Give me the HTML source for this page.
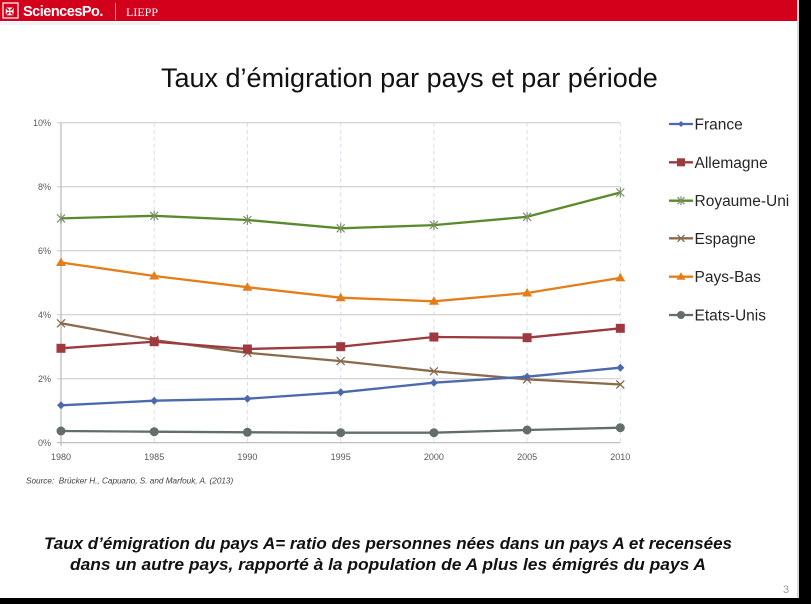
<!DOCTYPE html>
<html><head><meta charset="utf-8">
<style>
html,body{margin:0;padding:0;}
body{width:811px;height:604px;position:relative;overflow:hidden;background:#fff;font-family:"Liberation Sans",sans-serif;}
</style></head>
<body>
<svg width="811" height="604" viewBox="0 0 811 604" xmlns="http://www.w3.org/2000/svg" style="position:absolute;left:0;top:0">
  <!-- header -->
  <rect x="0" y="0" width="798" height="21" fill="#d3001b"/>
  <rect x="3" y="3" width="15" height="15" fill="none" stroke="#fff" stroke-width="1.2"/>
  <text x="5.5" y="15" font-family="Liberation Serif, serif" font-size="10" fill="#fff" font-weight="bold">✠</text>
  <text x="23" y="16" font-family="Liberation Sans, sans-serif" font-size="14.5" font-weight="bold" fill="#fff" letter-spacing="-0.5">SciencesPo.</text>
  <line x1="115.5" y1="3" x2="115.5" y2="20" stroke="#f08a95" stroke-width="1"/>
  <text x="126" y="16" font-family="Liberation Serif, serif" font-size="12" fill="#fff">LIEPP</text>
  <rect x="0" y="22" width="160" height="3" fill="#eef3f8"/>

  <!-- right & bottom black borders -->
  <rect x="797" y="0" width="2" height="604" fill="#d8d8d8"/>
  <rect x="799" y="0" width="12" height="604" fill="#000"/>
  <rect x="0" y="598" width="811" height="6" fill="#000"/>

  <!-- title -->
  <text x="161" y="87" font-family="Liberation Sans, sans-serif" font-size="27" fill="#111">Taux d’émigration par pays et par période</text>

  <!-- grid -->
  <g stroke="#d4dfec" stroke-width="1" stroke-dasharray="4,3">
    <line x1="154.2" y1="122.7" x2="154.2" y2="442.7"/>
    <line x1="247.4" y1="122.7" x2="247.4" y2="442.7"/>
    <line x1="340.7" y1="122.7" x2="340.7" y2="442.7"/>
    <line x1="433.9" y1="122.7" x2="433.9" y2="442.7"/>
    <line x1="527.1" y1="122.7" x2="527.1" y2="442.7"/>
    <line x1="620.3" y1="122.7" x2="620.3" y2="442.7"/>
  </g>
  <g stroke="#c9c9c9" stroke-width="1">
    <line x1="57" y1="122.7" x2="620.3" y2="122.7"/>
    <line x1="57" y1="186.7" x2="620.3" y2="186.7"/>
    <line x1="57" y1="250.7" x2="620.3" y2="250.7"/>
    <line x1="57" y1="314.7" x2="620.3" y2="314.7"/>
    <line x1="57" y1="378.7" x2="620.3" y2="378.7"/>
  </g>
  <line x1="61" y1="122.7" x2="61" y2="446" stroke="#b8b8b8" stroke-width="1.2"/>
  <line x1="57" y1="442.7" x2="620.3" y2="442.7" stroke="#b8b8b8" stroke-width="1.2"/>

  <!-- y labels -->
  <g font-family="Liberation Sans, sans-serif" font-size="9" fill="#595959" text-anchor="end">
    <text x="51" y="126">10%</text>
    <text x="51" y="190">8%</text>
    <text x="51" y="254">6%</text>
    <text x="51" y="318">4%</text>
    <text x="51" y="382">2%</text>
    <text x="51" y="446">0%</text>
  </g>
  <!-- x labels -->
  <g font-family="Liberation Sans, sans-serif" font-size="9" fill="#595959" text-anchor="middle">
    <text x="61" y="460">1980</text>
    <text x="154.2" y="460">1985</text>
    <text x="247.4" y="460">1990</text>
    <text x="340.7" y="460">1995</text>
    <text x="433.9" y="460">2000</text>
    <text x="527.1" y="460">2005</text>
    <text x="620.3" y="460">2010</text>
  </g>

  <!-- series -->
  <g fill="none" stroke-width="2.3" stroke-linejoin="round" stroke-linecap="round">
    <polyline stroke="#5a8a2c" points="61,218.4 154.2,215.8 247.4,220 340.7,228.3 433.9,225.1 527.1,216.8 620.3,192.5"/>
    <polyline stroke="#e47e1b" points="61,262.5 154.2,276 247.4,287.2 340.7,297.7 433.9,301.3 527.1,293 620.3,277.9"/>
    <polyline stroke="#8a6a4d" points="61,323.3 154.2,340 247.4,352.8 340.7,361.1 433.9,371.3 527.1,379.3 620.3,384.5"/>
    <polyline stroke="#9c3a40" points="61,348.3 154.2,341.7 247.4,349 340.7,346.7 433.9,337 527.1,337.7 620.3,328.3"/>
    <polyline stroke="#4b69ad" points="61,405.3 154.2,400.7 247.4,398.7 340.7,392.3 433.9,382.7 527.1,376.7 620.3,367.7"/>
    <polyline stroke="#636d6c" points="61,431 154.2,431.7 247.4,432.3 340.7,432.7 433.9,432.7 527.1,430 620.3,427.7"/>
  </g>

  <!-- markers: UK stars -->
  <g stroke="#7d8f6a" stroke-width="1.2">
    <path d="M57,214.4 l8,8 M65,214.4 l-8,8 M61,213.4 v10 M150.2,211.8 l8,8 M158.2,211.8 l-8,8 M154.2,210.8 v10 M243.4,216 l8,8 M251.4,216 l-8,8 M247.4,215 v10 M336.7,224.3 l8,8 M344.7,224.3 l-8,8 M340.7,223.3 v10 M429.9,221.1 l8,8 M437.9,221.1 l-8,8 M433.9,220.1 v10 M523.1,212.8 l8,8 M531.1,212.8 l-8,8 M527.1,211.8 v10 M616.3,188.5 l8,8 M624.3,188.5 l-8,8 M620.3,187.5 v10"/>
  </g>
  <!-- Pays-Bas triangles -->
  <g fill="#e47e1b">
    <path d="M61,257.5 l5,8.5 h-10z"/>
    <path d="M154.2,271 l5,8.5 h-10z"/>
    <path d="M247.4,282.2 l5,8.5 h-10z"/>
    <path d="M340.7,292.7 l5,8.5 h-10z"/>
    <path d="M433.9,296.3 l5,8.5 h-10z"/>
    <path d="M527.1,288 l5,8.5 h-10z"/>
    <path d="M620.3,272.9 l5,8.5 h-10z"/>
  </g>
  <!-- Espagne x -->
  <g stroke="#8a6a4d" stroke-width="1.3">
    <path d="M57,319.3 l8,8 M65,319.3 l-8,8 M150.2,336 l8,8 M158.2,336 l-8,8 M243.4,348.8 l8,8 M251.4,348.8 l-8,8 M336.7,357.1 l8,8 M344.7,357.1 l-8,8 M429.9,367.3 l8,8 M437.9,367.3 l-8,8 M523.1,375.3 l8,8 M531.1,375.3 l-8,8 M616.3,380.5 l8,8 M624.3,380.5 l-8,8"/>
  </g>
  <!-- Allemagne squares -->
  <g fill="#9c3a40">
    <rect x="56.5" y="343.8" width="9" height="9"/>
    <rect x="149.7" y="337.2" width="9" height="9"/>
    <rect x="242.9" y="344.5" width="9" height="9"/>
    <rect x="336.2" y="342.2" width="9" height="9"/>
    <rect x="429.4" y="332.5" width="9" height="9"/>
    <rect x="522.6" y="333.2" width="9" height="9"/>
    <rect x="615.8" y="323.8" width="9" height="9"/>
  </g>
  <!-- France diamonds -->
  <g fill="#4b69ad">
    <path d="M61,401.3 l4,4 l-4,4 l-4,-4z"/>
    <path d="M154.2,396.7 l4,4 l-4,4 l-4,-4z"/>
    <path d="M247.4,394.7 l4,4 l-4,4 l-4,-4z"/>
    <path d="M340.7,388.3 l4,4 l-4,4 l-4,-4z"/>
    <path d="M433.9,378.7 l4,4 l-4,4 l-4,-4z"/>
    <path d="M527.1,372.7 l4,4 l-4,4 l-4,-4z"/>
    <path d="M620.3,363.7 l4,4 l-4,4 l-4,-4z"/>
  </g>
  <!-- USA circles -->
  <g fill="#636d6c">
    <circle cx="61" cy="431" r="4.5"/>
    <circle cx="154.2" cy="431.7" r="4.5"/>
    <circle cx="247.4" cy="432.3" r="4.5"/>
    <circle cx="340.7" cy="432.7" r="4.5"/>
    <circle cx="433.9" cy="432.7" r="4.5"/>
    <circle cx="527.1" cy="430" r="4.5"/>
    <circle cx="620.3" cy="427.7" r="4.5"/>
  </g>

  <!-- legend -->
  <g stroke-width="2.3">
    <line x1="669" y1="124" x2="693" y2="124" stroke="#4b69ad"/>
    <line x1="669" y1="162.3" x2="693" y2="162.3" stroke="#9c3a40"/>
    <line x1="669" y1="200.7" x2="693" y2="200.7" stroke="#5a8a2c"/>
    <line x1="669" y1="238.3" x2="693" y2="238.3" stroke="#8a6a4d"/>
    <line x1="669" y1="276.7" x2="693" y2="276.7" stroke="#e47e1b"/>
    <line x1="669" y1="315" x2="693" y2="315" stroke="#636d6c"/>
  </g>
  <path d="M681,121 l3,3 l-3,3 l-3,-3z" fill="#4b69ad"/>
  <rect x="677" y="158.3" width="8" height="8" fill="#9c3a40"/>
  <path d="M677.5,197.2 l7,7 M684.5,197.2 l-7,7 M681,196.2 v9" stroke="#7d8f6a" stroke-width="1.2"/>
  <path d="M677.5,234.8 l7,7 M684.5,234.8 l-7,7" stroke="#8a6a4d" stroke-width="1.3"/>
  <path d="M681,272.2 l4.5,7.5 h-9z" fill="#e47e1b"/>
  <circle cx="681" cy="315" r="4" fill="#636d6c"/>
  <g font-family="Liberation Sans, sans-serif" font-size="15.5" fill="#262626">
    <text x="694.5" y="129.5">France</text>
    <text x="694.5" y="167.8">Allemagne</text>
    <text x="694.5" y="206.2">Royaume-Uni</text>
    <text x="694.5" y="243.8">Espagne</text>
    <text x="694.5" y="282.2">Pays-Bas</text>
    <text x="694.5" y="320.5">Etats-Unis</text>
  </g>

  <!-- source -->
  <text x="26" y="483.5" font-family="Liberation Sans, sans-serif" font-size="8.2" font-style="italic" fill="#404040" xml:space="preserve">Source:  Brücker H., Capuano, S. and Marfouk, A. (2013)</text>

  <!-- definition -->
  <g font-family="Liberation Sans, sans-serif" font-size="16.9" font-style="italic" font-weight="bold" fill="#111" text-anchor="middle">
    <text x="388" y="549" textLength="688" lengthAdjust="spacingAndGlyphs">Taux d’émigration du pays A= ratio des personnes nées dans un pays A et recensées</text>
    <text x="388" y="570" textLength="636" lengthAdjust="spacingAndGlyphs">dans un autre pays, rapporté à la population de A plus les émigrés du pays A</text>
  </g>

  <!-- page number -->
  <text x="783" y="593" font-family="Liberation Sans, sans-serif" font-size="11" fill="#9a9a9a">3</text>
</svg>
</body></html>
